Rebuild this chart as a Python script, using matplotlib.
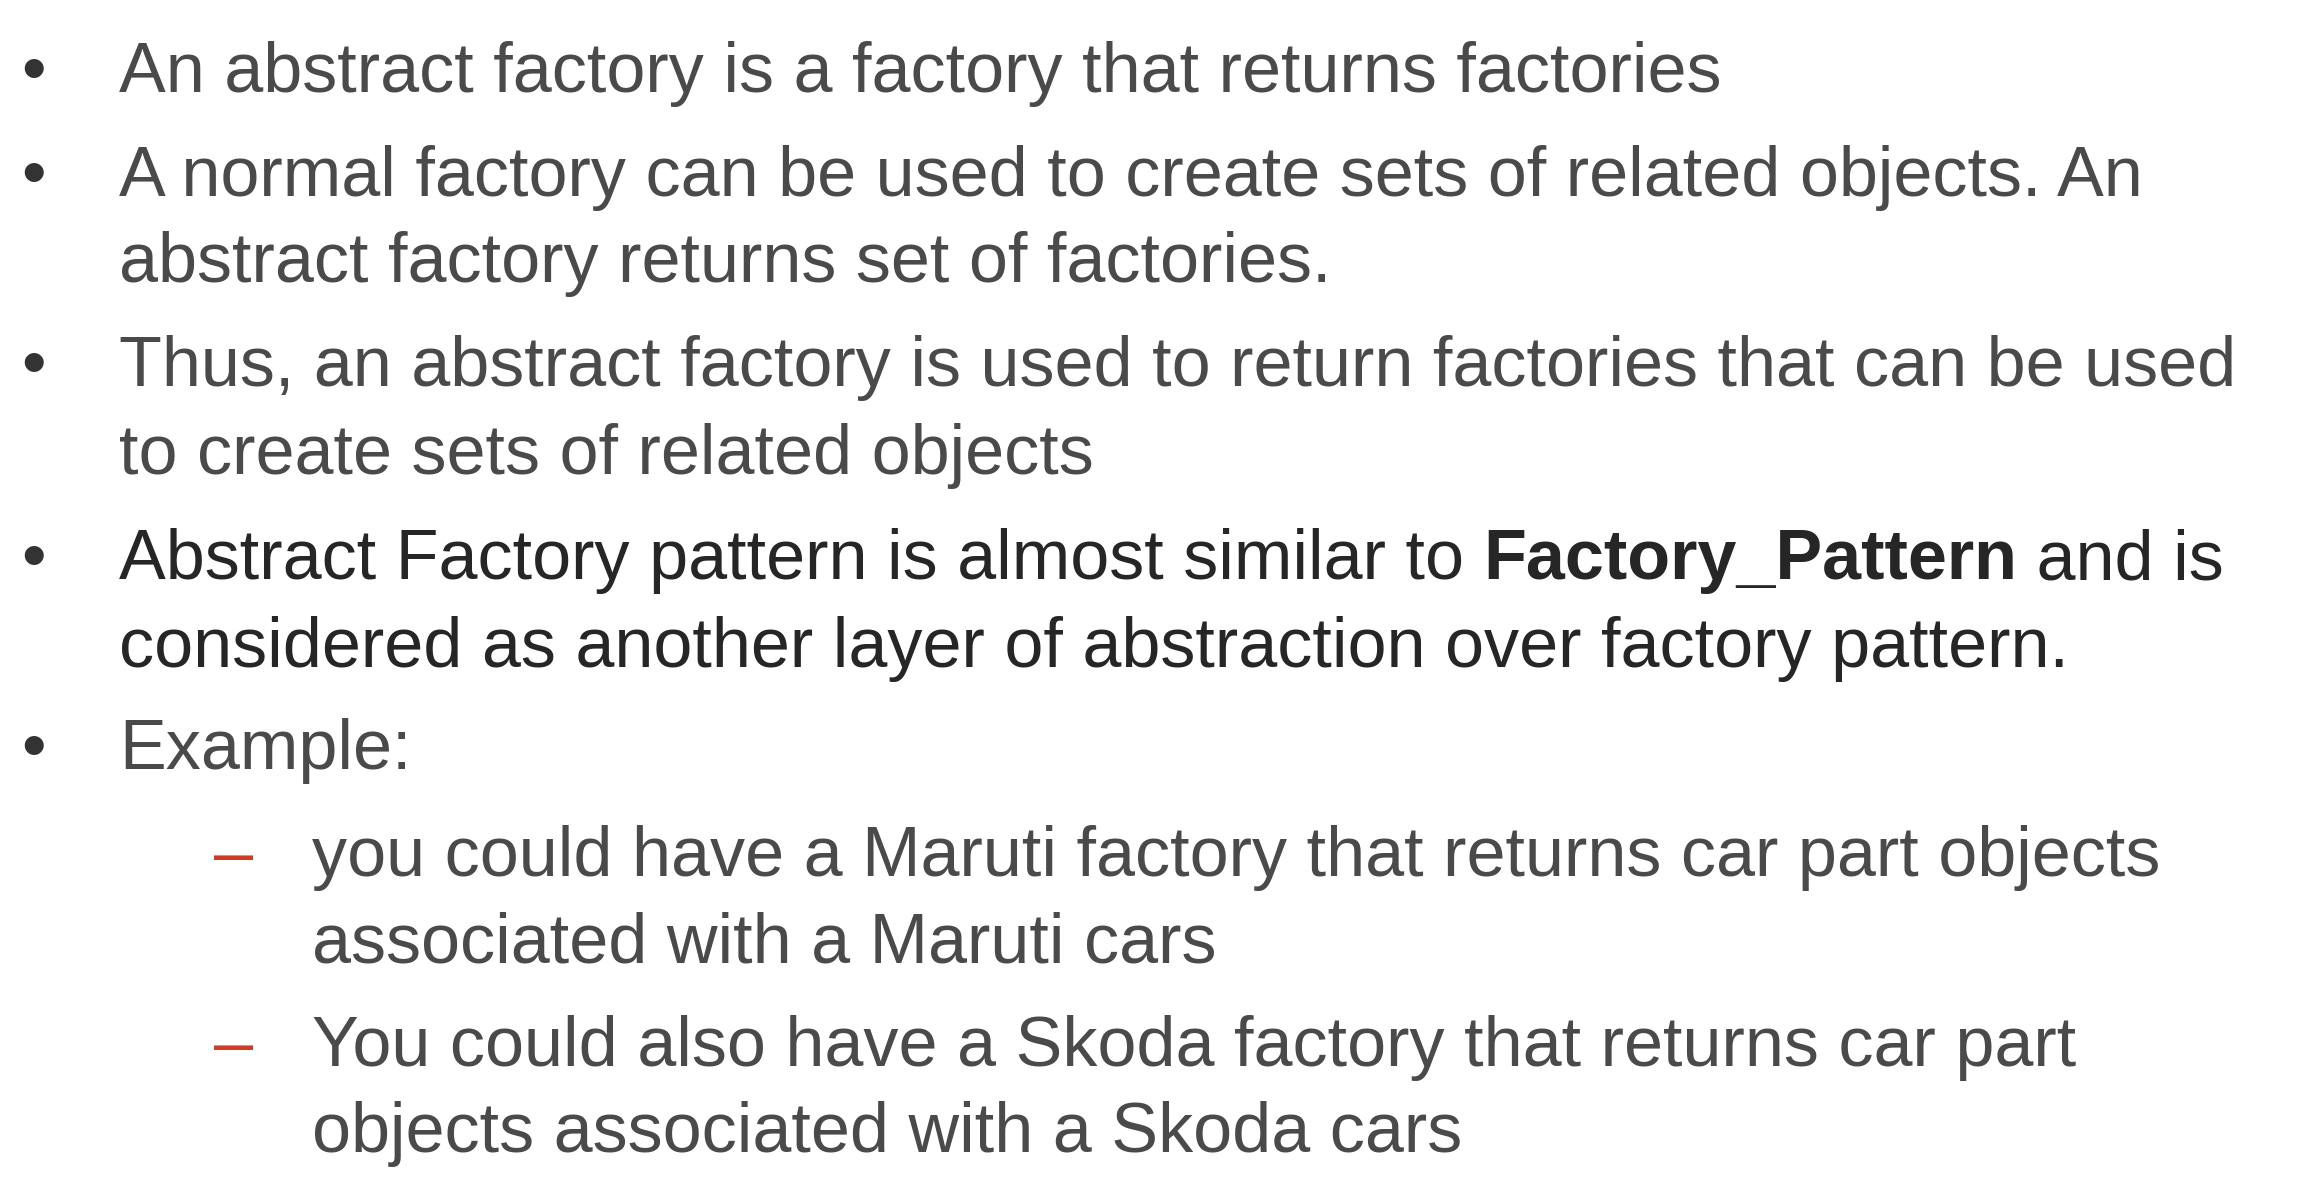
import matplotlib
matplotlib.use("Agg")
import matplotlib.pyplot as plt

W, H = 2316, 1198
S = W / 1560.0  # reference was read at 1560 px wide

# (indent level, text pieces [(text, bold)], y centre in 1560-wide coords)
LINES = [
    (0, [("An abstract factory is a factory that returns factories", False)], 50),
    (0, [("A normal factory can be used to create sets of related objects. An", False)], 120),
    (None, [("abstract factory returns set of factories.", False)], 178),
    (0, [("Thus, an abstract factory is used to return factories that can be used", False)], 248),
    (None, [("to create sets of related objects", False)], 307),
    (0, [("Abstract Factory pattern is almost similar to ", False), ("Factory_Pattern", True), (" and is", False)], 378),
    (None, [("considered as another layer of abstraction over factory pattern.", False)], 437),
    (0, [("Example:", False)], 506),
    (1, [("you could have a Maruti factory that returns car part objects", False)], 578),
    (None, [("associated with a Maruti cars", False)], 636),
    (1, [("You could also have a Skoda factory that returns car part", False)], 706),
    (None, [("objects associated with a Skoda cars", False)], 764),
]
DARK_ITEMS = [5, 6]  # the Factory_Pattern bullet is drawn darker

TEXT_GREY = "#4a4a4a"
TEXT_DARK = "#262626"
BULLET = "#333333"
DASH_RED = "#d03a2a"
FONT = "Liberation Sans"
SIZE = 34 * S / 1.389 * 1.389 / 1.0  # points (dpi 100)

fig = plt.figure(figsize=(W / 100, H / 100), dpi=100)
fig.patch.set_facecolor("white")
renderer = fig.canvas.get_renderer()

level = 0
for i, (lvl, pieces, yc) in enumerate(LINES):
    if lvl is not None:
        level = lvl
    x0 = (80 if level == 0 else 210) * S
    y = 1 - yc * S / H
    color = TEXT_DARK if i in DARK_ITEMS else TEXT_GREY
    if lvl == 0:
        fig.text(14 * S / W, y, "\u2022", fontsize=SIZE, family=FONT, color=BULLET, va="center")
    elif lvl == 1:
        fig.text(144 * S / W, y, "\u2013", fontsize=SIZE, family=FONT, color=DASH_RED, va="center")
    x = x0
    for txt, bold in pieces:
        t = fig.text(x / W, y, txt, fontsize=SIZE, family=FONT, color=color,
                     weight="bold" if bold else "normal", va="center")
        x += t.get_window_extent(renderer).width

fig.savefig("out.png", dpi=100)
